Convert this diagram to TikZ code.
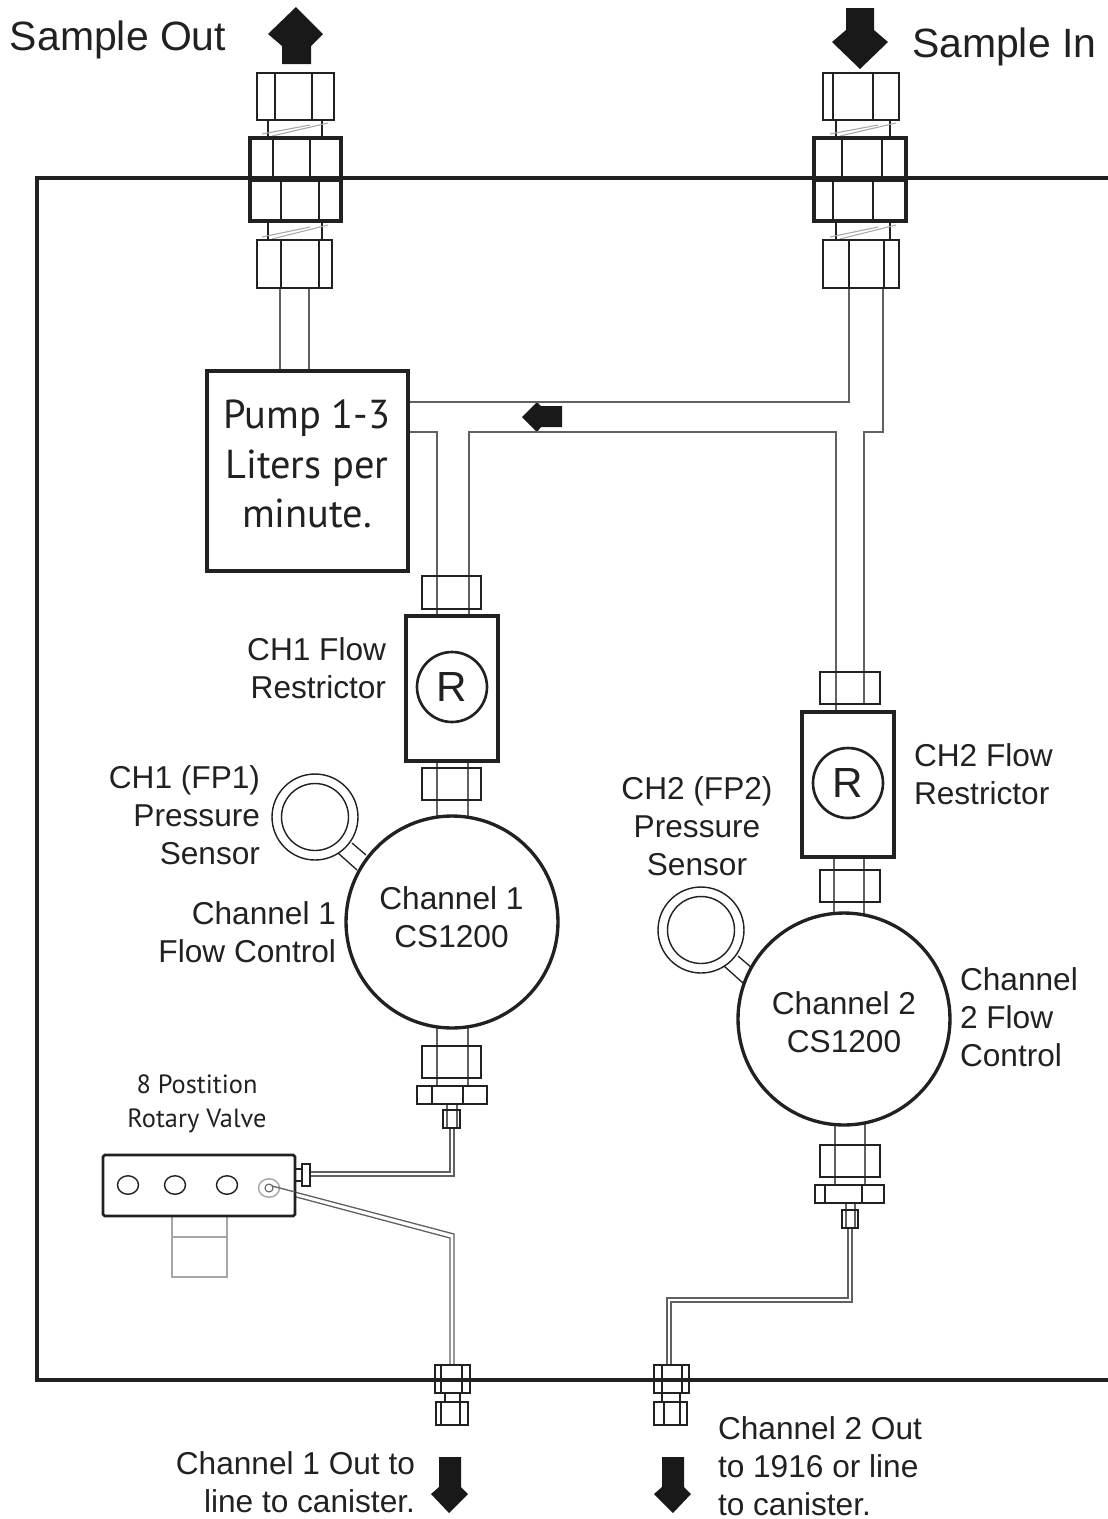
\documentclass[tikz,border=0pt]{standalone}
\usepackage{fontspec}
\setmainfont{Liberation Sans}
\newfontfamily\pumpfont{PT Sans}
\usetikzlibrary{calc,positioning,shapes.geometric}
\definecolor{inkdark}{gray}{0.13}
\definecolor{tubegray}{gray}{0.38}
\tikzset{
  frameline/.style={line width=2.7pt,draw=inkdark},
  part/.style={line width=0.75pt,draw=inkdark},
  tube/.style={line width=0.75pt,draw=tubegray},
  thinpart/.style={line width=0.6pt,draw=gray!70},
  heavy/.style={line width=2.8pt,draw=inkdark},
  lbl/.style={font=\fontsize{18}{21.6}\selectfont,text=inkdark,inner sep=0pt,outer sep=0pt},
  toplbl/.style={font=\fontsize{23.3}{27}\selectfont,text=inkdark,inner sep=0pt,outer sep=0pt},
  valvelbl/.style={font=\pumpfont\fontsize{15}{19.3}\selectfont,text=inkdark,inner sep=0pt,align=center},
  pumpbox/.style={draw=inkdark,line width=1.8pt,fill=white,minimum width=4.02cm,minimum height=4cm,inner sep=0pt,outer sep=0pt},
  pumplbl/.style={align=center,inner sep=0pt,font=\pumpfont\fontsize{23}{28.3}\selectfont,text=inkdark},
  restrictbox/.style={draw=inkdark,line width=2pt,fill=white,minimum width=1.84cm,minimum height=2.9cm,outer sep=0pt},
  rmark/.style={circle,draw=inkdark,line width=1.5pt,minimum size=1.4cm,inner sep=0pt,font=\fontsize{24}{24}\selectfont,text=inkdark},
  flowctl/.style={circle,draw=inkdark,line width=1.9pt,fill=white,minimum size=4.24cm,inner sep=0pt,outer sep=0pt},
  gaugeouter/.style={circle,draw=inkdark,line width=0.8pt,fill=white,minimum size=1.72cm,inner sep=0pt,outer sep=0pt},
  gaugeinner/.style={circle,draw=inkdark,line width=0.8pt,minimum size=1.34cm,inner sep=0pt},
  hole/.style={ellipse,draw=inkdark,line width=0.8pt,minimum width=0.42cm,minimum height=0.37cm,inner sep=0pt},
}
\begin{document}
\begin{tikzpicture}[x=0.02cm,y=-0.02cm]
  \useasboundingbox (0,0) rectangle (1108,1519);
  % enclosure
  \draw[frameline] (1108,178) -- (37,178) -- (37,1380) -- (1108,1380);
  % arrows
  \fill[black!90] (296,7) -- (323,34) -- (311,46) -- (311,64) -- (282,64) -- (282,46) -- (268,34) -- cycle;
  \fill[black!90] (860,69) -- (888,42) -- (874,30) -- (874,8) -- (846,8) -- (846,30) -- (832,42) -- cycle;
  \fill[black!90] (522,417) -- (537,402) -- (541,406) -- (562,406) -- (562,427) -- (541,427) -- (537,432) -- cycle;
  \fill[black!90] (449,1513) -- (468,1494) -- (461,1487) -- (461,1457) -- (439,1457) -- (439,1487) -- (431,1494) -- cycle;
  \fill[black!90] (673,1513) -- (691,1494) -- (684,1487) -- (684,1457) -- (662,1457) -- (662,1487) -- (654,1494) -- cycle;
  % tubes
  \draw[tube] (280,288) -- (280,371);
  \draw[tube] (309,288) -- (309,371);
  \draw[tube] (849,288) -- (849,402) -- (408,402);
  \draw[tube] (883,288) -- (883,432) -- (864,432) -- (864,704);
  \draw[tube] (408,432) -- (437,432) -- (437,616);
  \draw[tube] (469,616) -- (469,432) -- (836,432) -- (836,712);
  \draw[tube] (437,761) -- (437,818);
  \draw[tube] (468,761) -- (468,818);
  \draw[tube] (834,857) -- (834,914);
  \draw[tube] (864,857) -- (864,914);
  \draw[tube] (437,1028) -- (437,1086);
  \draw[tube] (468,1028) -- (468,1086);
  \draw[tube] (835,1124) -- (835,1185);
  \draw[tube] (865,1124) -- (865,1185);
  \draw[tube] (447,1104) -- (447,1128);
  \draw[tube] (457,1104) -- (457,1128);
  \draw[tube] (846,1203) -- (846,1228);
  \draw[tube] (855,1203) -- (855,1228);
  \draw[tube] (450,1128) -- (450,1172) -- (310,1172);
  \draw[tube] (454,1128) -- (454,1176) -- (310,1176);
  \draw[tube] (272,1186) -- (454,1234) -- (454,1365);
  \draw[tube] (270,1190) -- (450,1238) -- (450,1365);
  \draw[tube] (848,1228) -- (848,1298) -- (667,1298) -- (667,1365);
  \draw[tube] (852,1228) -- (852,1302) -- (671,1302) -- (671,1365);
  % threads
  \foreach \xa/\xb/\ya/\yb in {268/322/120/137,268/322/222/240,836/890/120/137,836/890/222/240} {
    \draw[part] (\xa,\ya) -- (\xa,\yb);
    \draw[part] (\xb,\ya) -- (\xb,\yb);
    \draw[thinpart] (\xa-6,\yb-3) -- (\xb-12,\ya+5);
    \draw[thinpart] (\xa+4,\yb-1) -- (\xb+6,\ya+3);
  }
  % nuts
  \foreach \xa/\ya/\xb/\yb in {257/73/334/120,257/240/332/288,823/73/899/120,823/240/899/288,
      422/576/481/609,422/768/481/800,820/672/880/704,820/870/880/902,422/1046/481/1078,820/1145/880/1177,
      417/1086/487/1104,815/1185/884/1203,443/1110/460/1128,842/1210/858/1228,302/1164/310/1186,
      435/1365/470/1393,654/1365/689/1393,436/1402/468/1425,654/1402/687/1425}
    \draw[part] (\xa,\ya) rectangle (\xb,\yb);
  \foreach \xa/\ya/\yb in {275/73/120,312/73/120,833/73/120,873/73/120,281/240/288,319/240/288,849/240/288,884/240/288,
      432/1086/1104,463/1086/1104,825/1185/1203,862/1185/1203,
      441/1365/1393,462/1365/1393,662/1365/1393,682/1365/1393,441/1402/1425,460/1402/1425,664/1402/1425,680/1402/1425,
      445/1393/1402,460/1393/1402,662/1393/1402,680/1393/1402}
    \draw[part] (\xa,\ya) -- (\xa,\yb);
  % bulkhead blocks
  \foreach \xa/\ya/\yb in {273/138/178,310/138/178,281/178/221,319/178/221,842/138/178,882/138/178,833/178/221,873/178/221}
    \draw[part] (\xa,\ya) -- (\xa,\yb);
  \draw[heavy] (250,138) rectangle (341,221);
  \draw[heavy] (814,138) rectangle (906,221);
  \draw[line width=3.6pt,draw=inkdark] (250,179) -- (341,179);
  \draw[line width=3.6pt,draw=inkdark] (814,179) -- (906,179);
  % pump and restrictors
  \node[pumpbox] (pump) at (307.5,471) {};
  \node[pumplbl] (pumptext) at (307,464) {Pump 1-3\\Liters per\\minute.};
  \node[restrictbox] (restrict1) at (452,688.5) {};
  \node[restrictbox] (restrict2) at (848,784.5) {};
  \node[rmark] (rmark1) at (452,687) {R};
  \node[rmark] (rmark2) at (848,783) {R};
  % gauges
  \draw[part] (338,853) -- (357,870);
  \draw[part] (352,843) -- (366,855);
  \draw[part] (724,966) -- (743,983);
  \draw[part] (738,956) -- (752,968);
  \node[gaugeouter] (gauge1) at (315,817) {};
  \node[gaugeinner] (gaugein1) at (315,817) {};
  \node[gaugeouter] (gauge2) at (701,930) {};
  \node[gaugeinner] (gaugein2) at (701,930) {};
  % flow controllers
  \node[flowctl] (flow1) at (452,922) {};
  \node[flowctl] (flow2) at (844,1019) {};
  \node[lbl,align=center] (flowtext1) at (451.5,917) {Channel 1\\CS1200};
  \node[lbl,align=center] (flowtext2) at (844,1022) {Channel 2\\CS1200};
  % rotary valve
  \draw[thinpart] (172,1216) rectangle (227,1277);
  \draw[thinpart] (172,1237) -- (227,1237);
  \draw[line width=1.5pt,draw=inkdark,fill=white,rounded corners=1pt] (103,1155) rectangle (295,1216);
  \draw[part] (295,1169) -- (302,1169);
  \draw[part] (295,1181) -- (302,1181);
  \node[hole] (hole1) at (128,1185) {};
  \node[hole] (hole2) at (175,1185) {};
  \node[hole] (hole3) at (227,1185) {};
  \node[hole,draw=gray!70] (hole4) at (269,1188) {};
  \node[circle,draw=tubegray,line width=0.6pt,minimum size=0.16cm,inner sep=0pt] (holein) at (269,1188) {};
  \draw[tube] (272,1186) -- (295,1192);
  % labels
  \node[toplbl,anchor=west] (sampleout) at (10,40) {Sample Out};
  \node[toplbl,anchor=west] (samplein) at (912,47) {Sample In};
  \node[lbl,align=right,anchor=east] (labelr1) at (386,668.5) {CH1 Flow\\Restrictor};
  \node[lbl,align=right,anchor=east] (labelp1) at (260,815) {CH1 (FP1)\\Pressure\\Sensor};
  \node[lbl,align=right,anchor=east] (labelf1) at (336,932) {Channel 1\\Flow Control};
  \node[lbl,align=left,anchor=west] (labelr2) at (914,774) {CH2 Flow\\Restrictor};
  \node[lbl,align=center] (labelp2) at (697,826.5) {CH2 (FP2)\\Pressure\\Sensor};
  \node[lbl,align=left,anchor=west] (labelf2) at (960,1017) {Channel\\2 Flow\\Control};
  \node[valvelbl] (labelv) at (197,1104) {8 Postition\\Rotary Valve};
  \node[lbl,align=right,anchor=east] (labelo1) at (415,1482.5) {Channel 1 Out to\\line to canister.};
  \node[lbl,align=left,anchor=west] (labelo2) at (718,1466) {Channel 2 Out\\to 1916 or line\\to canister.};
\end{tikzpicture}
\end{document}
